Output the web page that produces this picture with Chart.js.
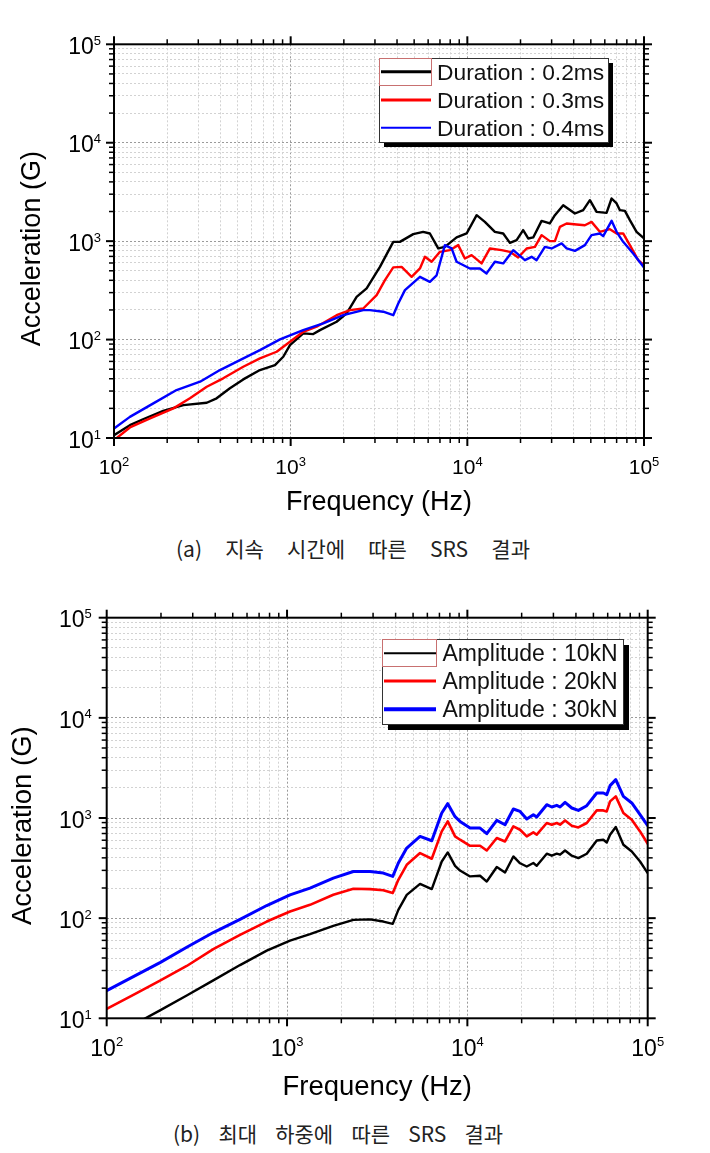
<!DOCTYPE html>
<html>
<head>
<meta charset="utf-8">
<script src="https://cdn.jsdelivr.net/npm/chart.js@4.4.1/dist/chart.umd.min.js"></script>
<style>
  html, body { margin: 0; padding: 0; background: #fff; }
  body { width: 710px; height: 1153px; position: relative; overflow: hidden; }
  canvas { position: absolute; left: 0; }
  #chartA { top: 0; }
  #chartB { top: 590px; }
  .caption {
    position: absolute; font-family: "Noto Sans CJK KR", sans-serif; font-size: 21px;
    color: #222; white-space: pre; line-height: 1;
  }
</style>
</head>
<body>
<canvas id="chartA" width="710" height="525"></canvas>
<div class="caption" style="left:176px; top:538px; word-spacing:18.5px;">(a) 지속 시간에 따른 SRS 결과</div>
<canvas id="chartB" width="710" height="516"></canvas>
<div class="caption" style="left:173px; top:1123px; word-spacing:13.5px;">(b) 최대 하중에 따른 SRS 결과</div>
<script>
// (a) SRS by pulse duration
const durFreq02 = [100, 123, 146, 190, 247, 335, 381, 453, 539, 670, 815, 908, 991, 1178, 1342, 1465, 1820, 2075, 2362, 2692,
  3201, 3808, 4150, 4943, 5623, 6138, 6842, 7464, 8695, 9908, 11290, 12570, 14320, 15960, 17420, 19010, 20700, 22110, 23600, 26320,
  29310, 31310, 34890, 40630, 45270, 49410, 53910, 61400, 65550, 69980, 73040, 77980, 83180, 90760, 100000];
const durAcc02 = [10.7, 13.5, 15.5, 18.9, 21.6, 22.8, 25.3, 32, 39.4, 49, 55.1, 66.9, 87.9, 115.6, 113.7, 124.8, 151.6, 184.5, 272, 331,
  548, 984, 984, 1178, 1243, 1197, 843, 875, 1091, 1197, 1836, 1570, 1243, 1197, 961, 1023, 1294, 1065, 1091, 1607,
  1513, 1836, 2320, 1910, 2065, 2608, 1983, 1937, 2712, 2415, 2065, 2031, 1633, 1243, 1065];

const durFreq03 = [100, 123, 160, 217, 269, 335, 415, 539, 670, 833, 991, 1178, 1403, 1820, 2166, 2575, 3066, 3417, 3808, 4246,
  4838, 5392, 5754, 6281, 6998, 7966, 8880, 9687, 10570, 12040, 13430, 15630, 17420, 19410, 21650, 24130, 26320, 29310, 31310, 33420,
  36470, 41510, 46280, 50470, 56230, 64100, 69980, 76210, 83180, 92680, 100000];
const durAcc03 = [9.5, 12.8, 15.8, 20, 25.3, 33.2, 40.4, 53, 64.4, 75.2, 95, 120, 135, 177, 199, 207, 283, 402, 541, 548,
  434, 528, 693, 617, 779, 810, 911, 667, 721, 594, 843, 810, 779, 683, 843, 875, 1151, 1000, 1000, 1396,
  1513, 1477, 1452, 1570, 1243, 1324, 1197, 1197, 911, 641, 570];

const durFreq04 = [100, 123, 167, 226, 307, 398, 516, 670, 870, 1178, 1529, 1985, 2575, 2811, 3342, 3808, 4064, 4434, 5392, 6138,
  6700, 7464, 8147, 8695, 10340, 11780, 12850, 14320, 15960, 18190, 21180, 23110, 24660, 27480, 29990, 34170, 36470, 40630, 46280, 50470,
  56230, 58750, 65550, 69980, 76210, 86860, 100000];
const durAcc04 = [12.5, 16.4, 22.5, 30.7, 37.3, 49, 61.9, 78.2, 100.5, 124.8, 146, 177, 199, 199, 192, 177, 233, 318, 434, 386,
  450, 911, 843, 617, 528, 528, 470, 617, 594, 810, 641, 693, 641, 875, 843, 948, 843, 797, 911, 1151,
  1197, 1125, 1607, 1243, 984, 750, 541];

// (b) SRS by peak load
const ampFreq = [100, 140.5, 197.5, 277.8, 390, 548.7, 771.7, 1039, 1341, 1806, 2332, 2886, 3420, 3857, 4142, 4611, 5465, 6347, 7210, 7784,
  8546, 9107, 10350, 11760, 12810, 14560, 16180, 17990, 19600, 21350, 23220, 24250, 27560, 29380, 31310, 32660, 34810, 37930, 41260, 45930,
  52190, 56770, 59290, 61840, 66520, 73310, 81600, 90700, 100000];
const amp10 = [6.2, 8.6, 12, 16.9, 23.9, 34, 47.4, 59.7, 69.2, 83.8, 96.2, 97.3, 92.5, 87.7, 121, 171, 220, 195, 368, 453,
  333, 299, 261, 265, 232, 324, 286, 413, 353, 328, 355, 333, 440, 420, 440, 430, 474, 420, 398, 440,
  597, 607, 570, 681, 813, 541, 463, 368, 281];
const amp20 = [12.4, 17.1, 23.8, 33.3, 49, 68.1, 92.5, 116.4, 135.8, 171, 196.3, 195, 189.7, 177.8, 241.5, 341, 446.7, 391.7, 734.5, 925,
  655, 606.7, 528, 528, 474, 631, 583, 824, 764, 655, 718, 681, 891, 857, 891, 857, 946, 838, 805, 891,
  1191, 1191, 1164, 1466, 1644, 1122, 962, 734.5, 553];
const amp30 = [18.9, 26.1, 36, 51.3, 71.8, 97.3, 133.7, 171, 199.5, 251, 292, 292, 282, 261, 355, 501, 655, 593, 1122, 1390,
  1030, 925, 794, 794, 697, 946, 857, 1230, 1164, 977, 1079, 1023, 1358, 1288, 1337, 1288, 1432, 1259, 1191, 1327,
  1778, 1778, 1710, 2104, 2415, 1644, 1413, 1079, 838];

const durLabels = ['Duration : 0.2ms', 'Duration : 0.3ms', 'Duration : 0.4ms'];
const ampLabels = ['Amplitude : 10kN', 'Amplitude : 20kN', 'Amplitude : 30kN'];
const seriesColors = ['#000000', '#ff0000', '#0000ff'];

// tick labels are 10^n, n from these lists
const xExponents = [2, 3, 4, 5];
const yExponents = [1, 2, 3, 4, 5];

const FONT = 'Arial, "Liberation Sans", sans-serif';

function isDecade(v) {
  const l = Math.log10(v);
  return Math.abs(l - Math.round(l)) < 1e-9;
}

function logTicks(exps) {
  const ticks = [];
  for (let k = 0; k < exps.length; k++) {
    const e = exps[k];
    const last = k === exps.length - 1;
    for (let m = 1; m <= (last ? 1 : 9); m++) {
      ticks.push({value: m * Math.pow(10, e), major: m === 1});
    }
  }
  return ticks;
}

function toPoints(xs, ys) {
  return xs.map((x, i) => ({x: x, y: ys[i]}));
}

function line(ctx, x0, y0, x1, y1) {
  ctx.beginPath();
  ctx.moveTo(x0, y0);
  ctx.lineTo(x1, y1);
  ctx.stroke();
}

function drawPower(ctx, exp, cx, cy, align, baseSize, expSize) {
  ctx.font = baseSize + 'px ' + FONT;
  const wb = ctx.measureText('10').width;
  ctx.font = expSize + 'px ' + FONT;
  const we = ctx.measureText(String(exp)).width;
  const left = align === 'right' ? cx - wb - we : cx - (wb + we) / 2;
  const base = cy + 0.716 * baseSize / 2;
  ctx.textAlign = 'left';
  ctx.textBaseline = 'alphabetic';
  ctx.font = baseSize + 'px ' + FONT;
  ctx.fillText('10', left, base);
  ctx.font = expSize + 'px ' + FONT;
  ctx.fillText(String(exp), left + wb, base - 0.716 * baseSize + 0.716 * expSize - 2);
}

const framePlugin = {
  id: 'srsFrame',
  afterDraw(chart, args, o) {
    const {ctx, chartArea: a} = chart;
    const x = chart.scales.x, y = chart.scales.y;
    ctx.save();
    ctx.strokeStyle = '#000';
    ctx.fillStyle = '#000';

    // tick marks on all four sides, pointing out
    for (const t of x.ticks) {
      const px = x.getPixelForValue(t.value);
      const major = isDecade(t.value);
      const len = major ? 8 : 5;
      ctx.lineWidth = major ? 2 : 1.5;
      line(ctx, px, a.bottom, px, a.bottom + len);
      line(ctx, px, a.top, px, a.top - len);
    }
    for (const t of y.ticks) {
      const py = y.getPixelForValue(t.value);
      const major = isDecade(t.value);
      const len = major ? 8 : 5;
      ctx.lineWidth = major ? 2 : 1.5;
      line(ctx, a.left, py, a.left - len, py);
      line(ctx, a.right, py, a.right + len, py);
    }
    ctx.lineWidth = 2;
    ctx.strokeRect(a.left, a.top, a.right - a.left, a.bottom - a.top);

    // 10^n labels
    for (const e of xExponents) {
      drawPower(ctx, e, x.getPixelForValue(Math.pow(10, e)), a.bottom + o.xLabelGap, 'center', o.xLabelSize, o.expSize);
    }
    for (const e of yExponents) {
      drawPower(ctx, e, a.left - o.yLabelGap, y.getPixelForValue(Math.pow(10, e)) + 1.5, 'right', o.yLabelSize, o.expSize);
    }

    // legend box with drop shadow
    const L = o.legend;
    ctx.fillStyle = '#000';
    ctx.fillRect(L.x + L.shadow, L.y + L.shadow, L.w, L.h);
    ctx.fillStyle = '#fff';
    ctx.fillRect(L.x, L.y, L.w, L.h);
    ctx.lineWidth = 1;
    ctx.strokeStyle = '#333';
    ctx.strokeRect(L.x + 0.5, L.y + 0.5, L.w, L.h);
    ctx.strokeStyle = '#c87070';
    ctx.strokeRect(L.x + 0.5, L.y + 0.5, L.selW, L.selH);
    chart.data.datasets.forEach((ds, i) => {
      ctx.strokeStyle = ds.borderColor;
      ctx.lineWidth = L.lineWidths[i];
      line(ctx, L.lineX0, L.rowY[i], L.lineX1, L.rowY[i]);
      ctx.fillStyle = '#111';
      ctx.font = L.fontSize + 'px ' + FONT;
      ctx.textAlign = 'left';
      ctx.textBaseline = 'alphabetic';
      ctx.fillText(ds.label, L.textX, L.rowY[i] + L.baseOffset);
    });
    ctx.restore();
  }
};

function gridColor(c) {
  return c.tick && isDecade(c.tick.value) ? '#9a9a9a' : '#d2d2d2';
}

function makeConfig(datasets, s) {
  return {
    type: 'line',
    data: {datasets: datasets},
    options: {
      responsive: false,
      animation: false,
      devicePixelRatio: 1,
      parsing: false,
      layout: {padding: s.padding},
      plugins: {
        legend: {display: false},
        tooltip: {enabled: false},
        srsFrame: s.frame
      },
      elements: {point: {radius: 0}, line: {tension: 0, borderJoinStyle: 'round', borderCapStyle: 'round'}},
      scales: {
        x: {
          type: 'logarithmic', min: 100, max: 100000,
          afterBuildTicks: (sc) => { sc.ticks = logTicks(xExponents); },
          ticks: {display: false},
          grid: {drawTicks: false, color: gridColor, lineWidth: 1},
          border: {display: false, dash: [2, 2]},
          title: {
            display: true, text: 'Frequency (Hz)', color: '#000',
            font: {family: FONT, size: s.titleSize, lineHeight: 1.2},
            padding: {top: s.xTitlePad, bottom: 0}
          }
        },
        y: {
          type: 'logarithmic', min: 10, max: 100000,
          afterBuildTicks: (sc) => { sc.ticks = logTicks(yExponents); },
          ticks: {display: false},
          grid: {drawTicks: false, color: gridColor, lineWidth: 1},
          border: {display: false, dash: [2, 2]},
          title: {
            display: true, text: 'Acceleration (G)  ', color: '#000',
            font: {family: FONT, size: s.titleSize, lineHeight: 1.2},
            padding: {top: s.yTitlePad[0], bottom: s.yTitlePad[1]}
          }
        }
      }
    },
    plugins: [framePlugin]
  };
}

new Chart(document.getElementById('chartA'), makeConfig([
  {label: durLabels[0], data: toPoints(durFreq02, durAcc02), borderColor: seriesColors[0], borderWidth: 2.4, order: 3},
  {label: durLabels[1], data: toPoints(durFreq03, durAcc03), borderColor: seriesColors[1], borderWidth: 2.4, order: 2},
  {label: durLabels[2], data: toPoints(durFreq04, durAcc04), borderColor: seriesColors[2], borderWidth: 2.4, order: 1}
], {
  padding: {top: 44.3, right: 66, bottom: 6.5, left: 0},
  titleSize: 27,
  xTitlePad: 48.1,
  yTitlePad: [16.1, 65.5],
  frame: {
    xLabelGap: 28.5, yLabelGap: 13, xLabelSize: 21, yLabelSize: 23, expSize: 13,
    legend: {
      x: 379, y: 58, w: 229, h: 84, shadow: 5, selW: 52, selH: 27,
      lineX0: 381, lineX1: 431, rowY: [71.7, 100, 127.7], lineWidths: [3, 3, 2],
      textX: 437, baseOffset: 7.8, fontSize: 22.8
    }
  }
}));

new Chart(document.getElementById('chartB'), makeConfig([
  {label: ampLabels[0], data: toPoints(ampFreq, amp10), borderColor: seriesColors[0], borderWidth: 2.4, order: 3},
  {label: ampLabels[1], data: toPoints(ampFreq, amp20), borderColor: seriesColors[1], borderWidth: 2.6, order: 2},
  {label: ampLabels[2], data: toPoints(ampFreq, amp30), borderColor: seriesColors[2], borderWidth: 3, order: 1}
], {
  padding: {top: 27.7, right: 62.3, bottom: 2.2, left: 0},
  titleSize: 27.5,
  xTitlePad: 52.5,
  yTitlePad: [7.3, 66.4],
  frame: {
    xLabelGap: 29, yLabelGap: 15, xLabelSize: 23, yLabelSize: 23, expSize: 13,
    legend: {
      x: 382, y: 49, w: 241, h: 85, shadow: 6, selW: 54, selH: 27,
      lineX0: 384, lineX1: 436, rowY: [63.3, 91, 119.3], lineWidths: [2, 3, 4],
      textX: 442.5, baseOffset: 8, fontSize: 23
    }
  }
}));
</script>
</body>
</html>
